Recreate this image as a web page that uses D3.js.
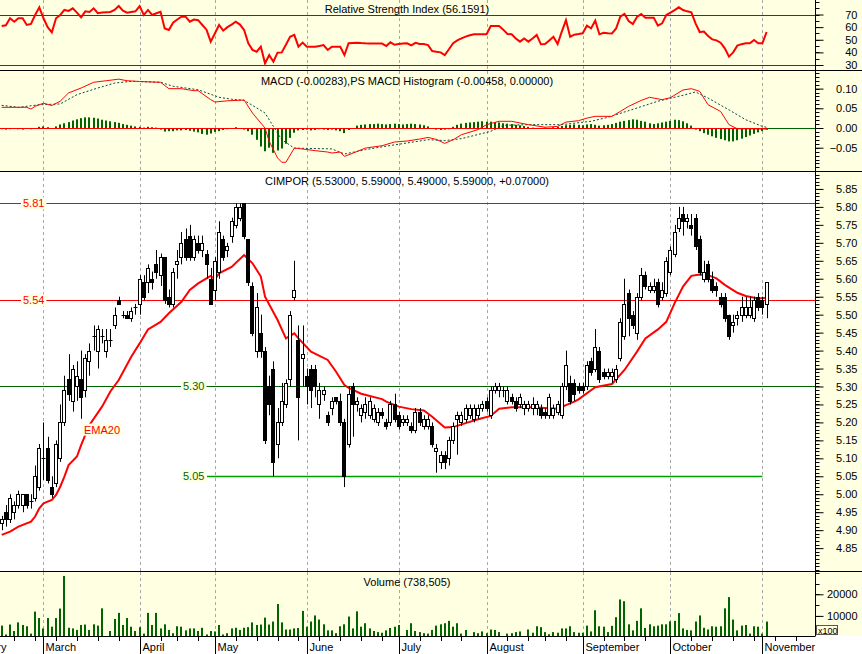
<!DOCTYPE html>
<html><head><meta charset="utf-8">
<script src="https://cdn.jsdelivr.net/npm/d3@7"></script>
<style>body{margin:0;background:#fff}svg{display:block;font-family:"Liberation Sans",Arial,sans-serif}</style>
</head><body><svg id="c" width="862" height="654"></svg>
<script>
// ---------- DATA ----------
const open=[4.92,4.95,4.93,4.95,4.97,4.97,5.00,4.98,4.99,5.02,5.10,5.13,5.02,5.03,5.10,5.20,5.32,5.26,5.30,5.32,5.29,5.37,5.44,5.40,5.44,5.40,5.43,5.47,5.54,5.50,5.50,5.49,5.52,5.53,5.59,5.59,5.60,5.64,5.61,5.66,5.55,5.53,5.64,5.66,5.71,5.72,5.66,5.70,5.68,5.67,5.60,5.57,5.62,5.71,5.68,5.72,5.75,5.77,5.81,5.71,5.58,5.40,5.45,5.40,5.30,5.35,5.14,5.20,5.25,5.32,5.55,5.43,5.38,5.33,5.35,5.35,5.25,5.28,5.22,5.24,5.27,5.26,5.20,5.14,5.30,5.25,5.22,5.23,5.22,5.21,5.20,5.23,5.20,5.20,5.25,5.22,5.20,5.20,5.19,5.18,5.23,5.19,5.19,5.19,5.12,5.09,5.11,5.10,5.15,5.21,5.20,5.21,5.22,5.21,5.22,5.24,5.26,5.22,5.29,5.29,5.29,5.26,5.27,5.26,5.25,5.24,5.24,5.24,5.24,5.24,5.23,5.22,5.22,5.23,5.22,5.30,5.31,5.31,5.30,5.30,5.30,5.37,5.35,5.40,5.34,5.33,5.33,5.32,5.38,5.44,5.56,5.50,5.45,5.55,5.61,5.57,5.57,5.59,5.55,5.56,5.62,5.67,5.74,5.78,5.76,5.75,5.77,5.71,5.60,5.64,5.60,5.58,5.55,5.55,5.50,5.47,5.49,5.50,5.50,5.50,5.49,5.55,5.54,5.53];
const high=[4.94,4.97,5.00,4.98,5.01,5.00,5.00,5.00,5.08,5.14,5.20,5.16,5.05,5.15,5.25,5.33,5.39,5.36,5.37,5.40,5.39,5.42,5.47,5.47,5.46,5.46,5.46,5.52,5.55,5.51,5.51,5.52,5.53,5.61,5.61,5.64,5.62,5.68,5.67,5.66,5.57,5.63,5.68,5.73,5.74,5.75,5.72,5.72,5.72,5.68,5.63,5.66,5.76,5.72,5.70,5.77,5.81,5.81,5.81,5.71,5.59,5.56,5.50,5.41,5.33,5.37,5.24,5.31,5.32,5.51,5.65,5.47,5.47,5.35,5.36,5.36,5.31,5.30,5.23,5.27,5.27,5.28,5.21,5.30,5.31,5.27,5.25,5.27,5.27,5.25,5.24,5.24,5.21,5.26,5.28,5.23,5.22,5.22,5.20,5.24,5.24,5.22,5.22,5.20,5.14,5.12,5.12,5.16,5.20,5.23,5.23,5.25,5.25,5.25,5.25,5.26,5.27,5.30,5.31,5.31,5.30,5.30,5.28,5.27,5.28,5.26,5.26,5.27,5.26,5.25,5.24,5.28,5.25,5.26,5.31,5.40,5.33,5.32,5.31,5.31,5.37,5.38,5.46,5.41,5.35,5.35,5.35,5.36,5.49,5.60,5.57,5.51,5.56,5.63,5.62,5.59,5.60,5.60,5.59,5.66,5.69,5.75,5.80,5.80,5.78,5.78,5.78,5.72,5.65,5.65,5.62,5.59,5.56,5.56,5.50,5.50,5.51,5.55,5.55,5.55,5.55,5.56,5.55,5.59];
const low=[4.90,4.91,4.92,4.93,4.96,4.95,4.96,4.96,4.98,5.01,5.04,5.03,4.99,5.02,5.09,5.19,5.26,5.23,5.26,5.21,5.27,5.33,5.40,5.35,5.42,5.38,5.41,5.46,5.53,5.49,5.49,5.48,5.50,5.50,5.54,5.56,5.57,5.60,5.58,5.53,5.52,5.52,5.60,5.64,5.65,5.65,5.65,5.67,5.66,5.60,5.53,5.54,5.60,5.65,5.66,5.70,5.74,5.76,5.71,5.58,5.44,5.38,5.38,5.14,5.22,5.05,5.10,5.19,5.24,5.30,5.54,5.15,5.30,5.25,5.24,5.27,5.21,5.26,5.19,5.22,5.25,5.19,5.02,5.13,5.16,5.23,5.20,5.21,5.21,5.20,5.19,5.21,5.18,5.19,5.20,5.18,5.19,5.19,5.17,5.17,5.19,5.18,5.18,5.13,5.06,5.07,5.07,5.08,5.14,5.11,5.19,5.20,5.21,5.20,5.21,5.23,5.23,5.21,5.28,5.27,5.27,5.25,5.25,5.23,5.24,5.22,5.23,5.22,5.22,5.21,5.21,5.21,5.21,5.22,5.21,5.29,5.25,5.26,5.28,5.28,5.29,5.33,5.34,5.31,5.32,5.32,5.31,5.31,5.37,5.43,5.44,5.46,5.43,5.54,5.57,5.56,5.56,5.52,5.54,5.55,5.61,5.66,5.73,5.72,5.74,5.72,5.68,5.61,5.59,5.59,5.56,5.55,5.52,5.48,5.43,5.45,5.47,5.48,5.49,5.49,5.48,5.51,5.50,5.49];
const close=[4.93,4.93,4.99,4.97,5.00,5.00,4.97,4.98,5.05,5.13,5.10,5.04,5.00,5.14,5.20,5.29,5.28,5.35,5.33,5.27,5.38,5.40,5.44,5.46,5.44,5.43,5.43,5.50,5.53,5.50,5.49,5.51,5.52,5.60,5.55,5.63,5.59,5.62,5.66,5.54,5.53,5.62,5.65,5.70,5.66,5.66,5.71,5.68,5.70,5.64,5.53,5.65,5.73,5.66,5.69,5.76,5.80,5.80,5.72,5.59,5.45,5.52,5.40,5.15,5.25,5.09,5.20,5.26,5.31,5.50,5.57,5.27,5.39,5.30,5.29,5.30,5.29,5.29,5.20,5.26,5.26,5.20,5.05,5.28,5.25,5.26,5.24,5.25,5.26,5.24,5.23,5.22,5.19,5.25,5.21,5.19,5.21,5.21,5.18,5.23,5.20,5.21,5.21,5.14,5.13,5.11,5.09,5.15,5.19,5.22,5.22,5.24,5.24,5.24,5.24,5.25,5.24,5.29,5.30,5.30,5.29,5.29,5.26,5.24,5.27,5.25,5.25,5.25,5.25,5.22,5.22,5.27,5.24,5.25,5.30,5.36,5.26,5.28,5.29,5.29,5.36,5.34,5.41,5.32,5.33,5.34,5.34,5.35,5.48,5.53,5.49,5.47,5.55,5.61,5.58,5.58,5.58,5.53,5.57,5.65,5.68,5.73,5.77,5.76,5.77,5.74,5.69,5.62,5.62,5.60,5.57,5.57,5.53,5.49,5.44,5.48,5.50,5.52,5.52,5.52,5.54,5.52,5.52,5.59];
const volume=[5500,1400,6000,3000,7000,5800,5200,1800,12000,9000,4200,9000,5000,9000,13400,28500,4500,4200,3500,5800,6000,3500,6100,5500,13500,600,3000,8600,11400,5800,9000,5000,3000,4800,1800,11400,5800,11400,4200,6100,3500,2000,5200,5000,3300,4200,4200,3000,4500,1400,3000,2800,5800,1400,2000,4200,4500,3500,4500,4800,7000,5800,6000,9200,6000,7400,15500,7000,3700,3700,4200,4400,12300,5000,7400,10200,8300,6100,3300,3300,2000,5200,6100,9700,4200,12100,5000,6600,4200,3000,2500,2200,3300,4400,5000,5800,600,3500,6600,3000,2500,2000,1800,3500,5500,6100,6600,7700,5000,6600,1800,3500,600,2500,2000,2800,2000,3700,3500,2500,200,1800,2000,2500,2800,200,3700,2200,5200,4800,2500,1500,2500,2200,4200,4200,5200,2500,2200,2200,5500,2800,12600,5200,5000,2500,5400,9400,17600,16800,6100,3300,7700,13500,4400,6100,5200,5500,6100,6100,7500,7700,11300,4200,3500,3300,7400,10200,4500,3700,5200,5000,5200,13500,18700,8300,3300,5500,5800,1800,5200,5000,1800,7385];
const rsi=[60.9,61.5,67,64.3,67,67,61.7,62.5,69.6,75.7,67,60,55.9,67,69.6,73.6,72.8,74.9,71.5,67.8,72.5,72,74.9,71,71.5,71.8,72,73.6,76.7,73,71.4,72,72.5,76.7,69.6,73.6,69.6,71,72.2,59,57.7,63.5,66,68.3,68.3,64.3,66,65.5,61.7,58,48.5,55,61.7,57.2,60,62,64.3,62,57.7,47.2,42,40.5,44.5,31.3,37.9,32.6,39.8,40,46,52.4,53.8,44.5,47.7,44.5,44.5,44.5,45,45.8,41.9,44.5,44.5,44.5,37.9,47.2,47.5,47.7,47.4,47.2,47.1,47,47,47,45,48,46,46.6,47,47.2,45.5,47.5,46.6,46.6,45.8,41.1,40.5,40,37.9,42.5,47.2,49.5,51.1,52.5,53.5,54.3,54.3,54.3,54.3,60.9,60.9,60.9,58,54.6,54.3,51,48.5,51,48.5,51,53.8,46.4,46.6,49.5,52.4,46.6,56.4,65.6,52.4,54,54.5,55.1,61.1,59,65.1,54.3,55.5,55.2,55,59,68.3,70.4,64.9,62.5,68,70.4,67.5,67.5,67.5,61.1,63,69.6,71.5,73.5,75.7,73.5,72.5,71.7,63,56.1,56.5,53,50.3,49.5,47.7,43.2,36.6,40,45.3,46.5,47.2,47.2,49.8,47.2,47.2,56.16];
const hist=[-0.003,-0.004,-0.003,-0.002,-0.003,-0.004,-0.002,-0.003,-0.001,0.003,0.004,0.002,-0.002,0.004,0.009,0.012,0.015,0.019,0.022,0.025,0.027,0.027,0.026,0.024,0.021,0.019,0.017,0.015,0.013,0.010,0.008,0.006,0.004,0.003,0.001,0.003,0.002,0.001,-0.004,-0.009,-0.008,-0.008,-0.006,-0.006,-0.005,-0.007,-0.009,-0.011,-0.015,-0.017,-0.014,-0.010,-0.008,-0.005,-0.003,-0.001,0.002,-0.002,-0.004,-0.008,-0.017,-0.030,-0.047,-0.059,-0.050,-0.063,-0.057,-0.052,-0.040,-0.025,-0.012,-0.006,-0.005,-0.004,-0.006,-0.005,-0.003,-0.004,-0.005,-0.004,-0.006,-0.008,-0.013,-0.005,-0.002,0.006,0.008,0.009,0.010,0.010,0.011,0.010,0.009,0.010,0.011,0.010,0.009,0.010,0.011,0.010,0.009,0.007,0.004,-0.002,-0.004,-0.005,-0.004,-0.003,0.003,0.008,0.011,0.013,0.014,0.015,0.016,0.017,0.016,0.016,0.015,0.014,0.012,0.011,0.010,0.008,0.007,0.005,0.003,0.001,-0.002,-0.001,0.001,-0.001,0.002,0.003,0.005,0.007,0.008,0.009,0.008,0.007,0.009,0.010,0.008,0.006,0.007,0.008,0.010,0.013,0.016,0.018,0.020,0.022,0.021,0.018,0.016,0.012,0.010,0.012,0.014,0.016,0.018,0.021,0.020,0.017,0.012,0.006,-0.004,-0.008,-0.013,-0.017,-0.021,-0.025,-0.028,-0.031,-0.034,-0.034,-0.031,-0.027,-0.023,-0.019,-0.015,-0.011,-0.008,-0.0046];
const macdDay=[0,3,6,7,8,10,11,12,14,16,19,22,25,28,30,33,38,40,43,46,47,50,51,54,58,60,63,64,66,67,68,70,71,75,78,79,81,82,84,87,91,94,97,100,102,104,106,108,110,114,116,119,122,124,126,130,133,135,138,140,142,146,148,150,153,155,158,160,163,165,167,169,172,174,176,179,183];
const macdValue=[0.0525,0.0525,0.0525,0.048,0.055,0.063,0.06,0.057,0.068,0.089,0.1015,0.116,0.12,0.124,0.12,0.118,0.116,0.0998,0.0998,0.0947,0.0947,0.072,0.066,0.069,0.071,0.038,0.0,-0.034,-0.076,-0.087,-0.087,-0.051,-0.052,-0.0575,-0.061,-0.0635,-0.061,-0.072,-0.064,-0.051,-0.045,-0.0355,-0.033,-0.028,-0.024,-0.029,-0.039,-0.030,-0.017,-0.004,0.0085,0.017,0.017,0.0127,0.0085,0.002,0.004,0.015,0.0186,0.025,0.0296,0.0296,0.042,0.055,0.070,0.078,0.072,0.077,0.0965,0.0998,0.093,0.059,0.042,0.0085,-0.002,-0.002,-0.0028];
const sigDay=[0,4,9,14,18,23,27,31,38,41,47,52,55,58,63,65,67,70,74,79,82,87,92,97,102,106,110,117,120,126,134,141,145,152,157,163,166,169,174,178,182,183];
const sigValue=[0.0575,0.0525,0.059,0.061,0.0846,0.1015,0.114,0.1185,0.116,0.106,0.097,0.078,0.073,0.0703,0.038,0.004,-0.0297,-0.051,-0.052,-0.053,-0.066,-0.055,-0.046,-0.038,-0.0297,-0.032,-0.027,-0.0085,0.0068,0.0085,0.0085,0.017,0.027,0.0508,0.068,0.083,0.0914,0.076,0.046,0.021,0.004,0.0018];
const emaDay=[0,2,4,7,8,9,10,12,13,14,15,16,18,19,20,21,24,26,28,31,33,35,38,40,43,45,47,49,50,51,52,55,58,60,62,63,66,68,70,71,74,78,80,82,83,86,91,92,95,98,101,103,106,108,111,114,117,119,122,127,133,135,137,138,142,146,149,152,154,157,159,161,163,165,167,169,171,173,176,178,181,183];
const emaValue=[4.887,4.896,4.910,4.924,4.938,4.961,4.975,4.984,4.998,5.021,5.049,5.081,5.105,5.137,5.165,5.193,5.244,5.286,5.318,5.383,5.42,5.459,5.48,5.504,5.536,5.569,5.587,5.601,5.608,5.598,5.615,5.633,5.666,5.643,5.606,5.55,5.485,5.434,5.448,5.434,5.397,5.374,5.341,5.304,5.296,5.28,5.265,5.258,5.244,5.237,5.233,5.216,5.186,5.187,5.198,5.209,5.218,5.238,5.242,5.242,5.238,5.248,5.258,5.264,5.298,5.307,5.346,5.397,5.434,5.459,5.48,5.532,5.578,5.608,5.612,5.61,5.601,5.583,5.561,5.552,5.545,5.547];
const monthNames=["February","March","April","May","June","July","August","September","October","November"];
const monthStart=[-10,10,33,51,73,95,116,139,160,182];
const weekTicks=[-2,3,8,13,18,23,28,38,42,47,56,61,66,71,76,81,86,91,100,105,110,121,126,130,135,144,149,154,165,170,175,180,185,190];
const priceLevels=[5.81,5.54,5.30,5.05];
const rsiTicks=[30,40,50,60,70];
const macdTicks=[-0.05,0,0.05,0.10];
const priceTicks=[4.85,4.90,4.95,5.00,5.05,5.10,5.15,5.20,5.25,5.30,5.35,5.40,5.45,5.50,5.55,5.60,5.65,5.70,5.75,5.80,5.85];
const volTicks=[10000,20000];

// ---------- LAYOUT ----------
const svg=d3.select("#c");
const YEL="#FFFFE1", AX=815.5;
const N=open.length;
const x=d3.scaleLinear().domain([0,N-1]).range([1.7,766.6]);
const P={rsi:[0,70],macd:[71,171],main:[172,571],vol:[572,636]};
const yR=d3.scaleLinear().domain([30,70]).range([65,14.5]);
const yM=d3.scaleLinear().domain([-0.05,0.10]).range([147.7,88.6]);
const yP=d3.scaleLinear().domain([5.05,5.81]).range([476.3,203.3]);
const yV=d3.scaleLinear().domain([0,20000]).range([637.5,594.3]);

svg.append("rect").attr("width",862).attr("height",654).attr("fill","#fff");
for(const k of ["rsi","macd","vol"]){svg.append("rect").attr("x",0).attr("y",P[k][0]).attr("width",862).attr("height",P[k][1]-P[k][0]).attr("fill",YEL);}
svg.append("rect").attr("x",AX).attr("y",P.main[0]).attr("width",862-AX).attr("height",P.main[1]-P.main[0]).attr("fill",YEL);

const defs=svg.append("defs");
for(const k in P){defs.append("clipPath").attr("id","cl-"+k).append("rect").attr("x",0).attr("y",P[k][0]).attr("width",AX).attr("height",P[k][1]-P[k][0]);}
const g={};
for(const k in P){g[k]=svg.append("g").attr("clip-path","url(#cl-"+k+")");}

// month gridlines
const gridX=monthStart.map(m=>Math.round(x(m))+0.5);
for(const k in P){
  g[k].selectAll("line.grid").data(gridX).join("line").attr("class","grid")
   .attr("x1",d=>d).attr("x2",d=>d).attr("y1",P[k][0]).attr("y2",P[k][1])
   .attr("stroke","#A8A8A8").attr("stroke-dasharray","3,3");
}

// RSI
[70,30].forEach(v=>g.rsi.append("line").attr("x1",0).attr("x2",AX).attr("y1",Math.round(yR(v))+0.5).attr("y2",Math.round(yR(v))+0.5).attr("stroke","#006400"));
g.rsi.append("path").datum(rsi).attr("fill","none").attr("stroke","#FF0000").attr("stroke-width",2)
 .attr("d",d3.line().x((d,i)=>x(i)).y(d=>yR(d)));

// MACD
const y0=Math.round(yM(0))+0.5;
g.macd.append("line").attr("x1",0).attr("x2",AX).attr("y1",y0).attr("y2",y0).attr("stroke","#006400");
g.macd.selectAll("rect.h").data(hist).join("rect").attr("class","h")
 .attr("x",(d,i)=>Math.round(x(i))-1).attr("width",2)
 .attr("y",d=>Math.min(yM(d),yM(0))).attr("height",d=>Math.abs(yM(d)-yM(0)))
 .attr("fill","#006400");
g.macd.append("line").attr("x1",0).attr("x2",x(N-1)).attr("y1",y0).attr("y2",y0).attr("stroke","#FF0000");
g.macd.append("path").datum(sigDay.map((d,i)=>[d,sigValue[i]])).attr("fill","none").attr("stroke","#004A4A").attr("stroke-dasharray","2,2")
 .attr("d",d3.line().x(d=>x(d[0])).y(d=>yM(d[1])));
g.macd.append("path").datum(macdDay.map((d,i)=>[d,macdValue[i]])).attr("fill","none").attr("stroke","#FF0000")
 .attr("d",d3.line().x(d=>x(d[0])).y(d=>yM(d[1])));

// MAIN
const lvlColor={5.81:"#FF0000",5.54:"#FF0000",5.30:"#006400",5.05:"#00A000"};
priceLevels.forEach(v=>{
  const yy=Math.round(yP(v))+0.5;
  const x1 = v===5.05? 207: 0;
  const x2 = v===5.05? gridX[gridX.length-1] : AX;
  g.main.append("line").attr("x1",x1).attr("x2",x2).attr("y1",yy).attr("y2",yy).attr("stroke",lvlColor[v]).attr("stroke-width",v===5.05?1.5:1);
});
g.main.append("path").datum(emaDay.map((d,i)=>[d,emaValue[i]])).attr("fill","none").attr("stroke","#FF0000").attr("stroke-width",2)
 .attr("d",d3.line().x(d=>x(d[0])).y(d=>yP(d[1])));
const cg=g.main.append("g");
open.forEach((o,i)=>{
  const cx=Math.round(x(i))+0.5, c=close[i];
  cg.append("line").attr("x1",cx).attr("x2",cx).attr("y1",yP(high[i])).attr("y2",yP(low[i])).attr("stroke","#000");
  const top=Math.round(yP(Math.max(o,c))), bot=Math.round(yP(Math.min(o,c)));
  if(bot-top<1){cg.append("line").attr("x1",cx-2).attr("x2",cx+2).attr("y1",top+0.5).attr("y2",top+0.5).attr("stroke","#000");}
  else cg.append("rect").attr("x",cx-2).attr("y",top+0.5).attr("width",3).attr("height",bot-top).attr("fill",c>=o?"#fff":"#000").attr("stroke","#000");
});
// level labels
function lab(txt,xx,yy,col){
  const t=svg.append("text").attr("x",xx).attr("y",yy).attr("font-size",11).attr("fill",col).text(txt);
  const b=t.node().getBBox();
  svg.insert("rect","text:last-of-type").attr("x",b.x-2).attr("y",b.y).attr("width",b.width+4).attr("height",b.height).attr("fill",YEL);
  t.raise();
}
lab("5.81",23,yP(5.81)+4,"#FF0000");
lab("5.54",23,yP(5.54)+4,"#FF0000");
lab("5.30",183,yP(5.30)+4,"#006400");
lab("5.05",183,yP(5.05)+4,"#006400");
lab("EMA20",84,yP(5.18)+4,"#FF0000");

// VOLUME
g.vol.selectAll("rect.v").data(volume).join("rect").attr("class","v")
 .attr("x",(d,i)=>Math.round(x(i))-1).attr("width",2)
 .attr("y",d=>yV(d)).attr("height",d=>yV(0)-yV(d)).attr("fill","#006400");

// titles
const titles=[["Relative Strength Index (56.1591)",13],["MACD (-0.00283),PS MACD Histogram (-0.00458, 0.00000)",85],["CIMPOR (5.53000, 5.59000, 5.49000, 5.59000, +0.07000)",185],["Volume (738,505)",586]];
titles.forEach(t=>svg.append("text").attr("x",407).attr("y",t[1]).attr("text-anchor","middle").attr("font-size",11).attr("fill","#000").text(t[0]));

// separators
[70.5,171.5,571.5].forEach(yy=>svg.append("line").attr("x1",0).attr("x2",862).attr("y1",yy).attr("y2",yy).attr("stroke","#000"));

// right axes
function rAxis(scale,ticks,fmt,minor,range){
  const ag=svg.append("g").attr("transform",`translate(${AX},0)`);
  ag.append("line").attr("x1",0).attr("x2",0).attr("y1",range[0]).attr("y2",range[1]).attr("stroke","#000");
  ag.selectAll("line.mi").data(minor.filter(v=>scale(v)>=range[0]&&scale(v)<=range[1])).join("line").attr("class","mi")
    .attr("x1",0).attr("x2",4).attr("y1",d=>Math.round(scale(d))+0.5).attr("y2",d=>Math.round(scale(d))+0.5).attr("stroke","#000");
  const ax=d3.axisRight(scale).tickValues(ticks).tickFormat(fmt).tickSize(8).tickSizeOuter(0);
  const a2=ag.append("g").call(ax);
  a2.select(".domain").remove();
  a2.selectAll("text").attr("x",42).attr("text-anchor","end").attr("font-size",11).attr("font-family",'"Liberation Sans",Arial,sans-serif').attr("fill","#000");
}
rAxis(yR,rsiTicks,d3.format("d"),d3.range(25,86,5),[0,70]);
rAxis(yM,macdTicks,d3.format(".2f"),d3.range(-0.11,0.15,0.01),[71,171]);
rAxis(yP,priceTicks,d3.format(".2f"),d3.range(4.78,5.90,0.01),[172,571]);
rAxis(yV,volTicks,d3.format("d"),d3.range(0,31000,5000),[572,636]);
// x100 box
svg.append("rect").attr("x",816.5).attr("y",625.5).attr("width",21).attr("height",9).attr("fill",YEL).attr("stroke","#555");
svg.append("text").attr("x",818).attr("y",633.5).attr("font-size",9).attr("fill","#000").text("x100");

// x axis
svg.append("rect").attr("x",0).attr("y",636).attr("width",862).attr("height",18).attr("fill","#fff");
svg.append("line").attr("x1",0).attr("x2",AX).attr("y1",636.5).attr("y2",636.5).attr("stroke","#000");
svg.selectAll("line.wt").data(weekTicks.map(d=>Math.round(x(d))+0.5).filter(v=>v>0&&v<AX)).join("line").attr("class","wt")
 .attr("x1",d=>d).attr("x2",d=>d).attr("y1",636).attr("y2",641).attr("stroke","#000");
svg.selectAll("line.mt").data(gridX.filter(v=>v>0)).join("line").attr("class","mt")
 .attr("x1",d=>d).attr("x2",d=>d).attr("y1",636).attr("y2",654).attr("stroke","#000");
defs.append("clipPath").attr("id","cl-x").append("rect").attr("x",0).attr("y",636).attr("width",AX).attr("height",18);
const xl=svg.append("g").attr("clip-path","url(#cl-x)");
xl.selectAll("text").data(monthNames).join("text").attr("x",(d,i)=>gridX[i]+2).attr("y",651).attr("font-size",11).attr("fill","#000").text(d=>d);
</script></body></html>
